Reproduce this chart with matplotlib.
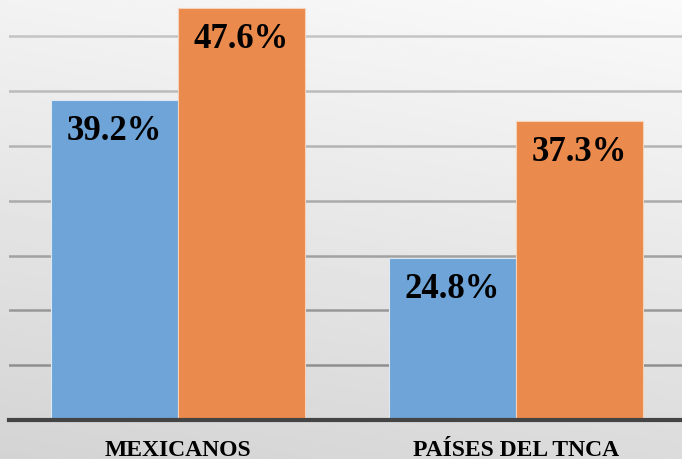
import numpy as np
import matplotlib
matplotlib.use("Agg")
import matplotlib.pyplot as plt

# data
categories = ["MEXICANOS", "PAÍSES DEL TNCA"]
serie_1 = [39.2, 24.8]
serie_2 = [47.6, 37.3]
y_ticks = [15, 20, 25, 30, 35, 40, 45]

fig = plt.figure(figsize=(6.82, 4.6), dpi=100)

# gray gradient background (lighter top right, darker bottom)
bg = fig.add_axes([0, 0, 1, 1])
yy, xx = np.mgrid[0:1:200j, 0:1:200j]
shade = 0.83 + 0.12 * (1 - yy) + 0.03 * xx
bg.imshow(shade, cmap="gray", vmin=0, vmax=1, aspect="auto", origin="upper",
          extent=[0, 1, 0, 1])
bg.axis("off")

ax = fig.add_axes([9 / 682, 39 / 460, 676 / 682, 421 / 460])
ax.patch.set_alpha(0)

x = np.arange(len(categories))
w = 0.376
b1 = ax.bar(x - w / 2, np.array(serie_1) - 10, w, bottom=10, color="#6ea4d7",
            edgecolor="#dce8f4", linewidth=0.8, zorder=3)
b2 = ax.bar(x + w / 2, np.array(serie_2) - 10, w, bottom=10, color="#ea8a4c",
            edgecolor="#f6d2b8", linewidth=0.8, zorder=3)

for bars, vals in ((b1, serie_1), (b2, serie_2)):
    for rect, v in zip(bars, vals):
        ax.annotate("%.1f%%" % v, (rect.get_x() + rect.get_width() / 2, v),
                    xytext=(0, -31), textcoords="offset pixels",
                    ha="center", va="center", fontsize=25, fontweight="bold",
                    family="Liberation Serif", color="black", zorder=4)

ax.set_xlim(-0.5, 1.5)
ax.set_ylim(10, 48.4)
ax.set_yticks(y_ticks)
ax.tick_params(axis="y", left=False, labelleft=False)
ax.tick_params(axis="x", bottom=False)
ax.set_xticks(x)
ax.set_xticklabels(categories, fontsize=17, fontweight="bold",
                   family="Liberation Serif")
ax.tick_params(axis="x", pad=10)

# gridlines get darker towards the bottom
ax.grid(axis="y", linewidth=1.8, zorder=1)
for i, gl in enumerate(ax.get_ygridlines()):
    g = 0.56 + 0.035 * i
    gl.set_color((g, g, g))

for s in ["top", "right", "left"]:
    ax.spines[s].set_visible(False)
ax.spines["bottom"].set_color("#444444")
ax.spines["bottom"].set_linewidth(3)
ax.spines["bottom"].set_zorder(5)

plt.savefig("out.png", dpi=100)
